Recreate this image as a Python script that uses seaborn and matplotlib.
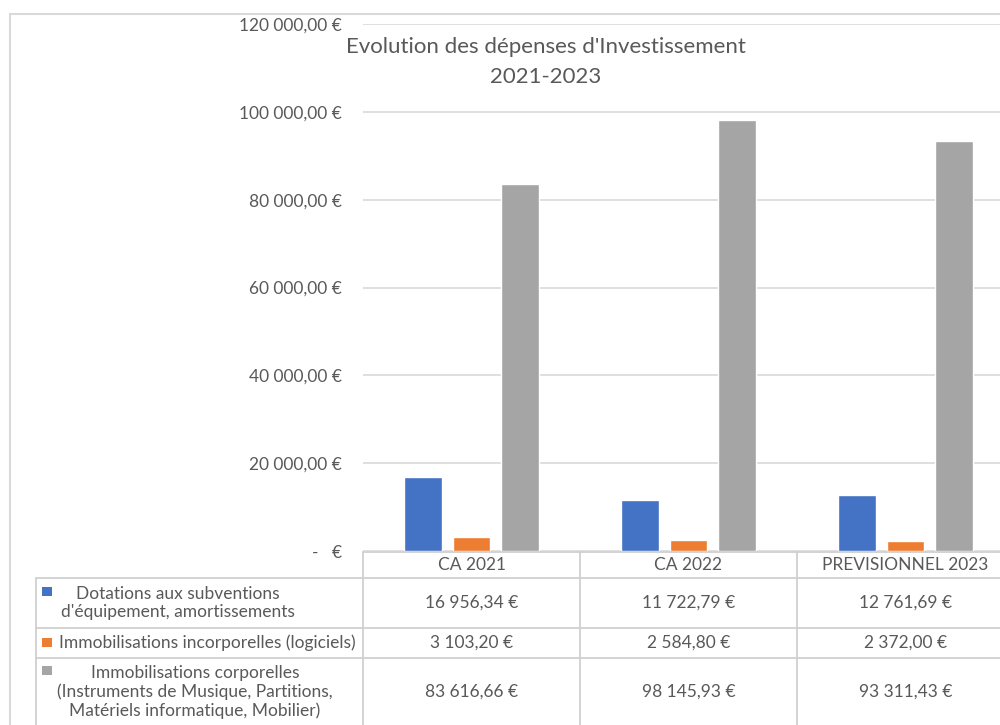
import matplotlib
matplotlib.use("Agg")
import matplotlib.pyplot as plt
import matplotlib.transforms as mtransforms
from matplotlib.lines import Line2D
from matplotlib.patches import Rectangle
import seaborn as sns
import pandas as pd

# ---- data ----
categories = ["CA 2021", "CA 2022", "PREVISIONNEL 2023"]
series_names = [
    "Dotations aux subventions\nd'équipement, amortissements",
    "Immobilisations incorporelles (logiciels)",
    "Immobilisations corporelles\n(Instruments de Musique, Partitions,\nMatériels informatique, Mobilier)",
]
dotations = [16956.34, 11722.79, 12761.69]
incorporelles = [3103.20, 2584.80, 2372.00]
corporelles = [83616.66, 98145.93, 93311.43]
colors = ["#4472C4", "#ED7D31", "#A5A5A5"]
yticks = [0, 20000, 40000, 60000, 80000, 100000, 120000]
title = "Evolution des dépenses d'Investissement\n2021-2023"

series_values = [dotations, incorporelles, corporelles]
rows = []
for name, vals in zip(series_names, series_values):
    for cat, v in zip(categories, vals):
        rows.append({"cat": cat, "series": name, "value": v})
df = pd.DataFrame(rows)

sns.set_theme(style="white")
plt.rcParams["font.family"] = ["Lato", "DejaVu Sans"]
TXT = "#595959"
GRID = "#D9D9D9"
FS = 12.5

W, H = 1000, 725
fig = plt.figure(figsize=(W / 100, H / 100), dpi=100)
fig.patch.set_facecolor("white")

def fy(py):
    return 1 - py / H

def fx(px):
    return px / W

ax_left, ax_right, ax_top, ax_bottom = 363, 1014, 24, 551
ax = fig.add_axes([fx(ax_left), fy(ax_bottom), (ax_right - ax_left) / W, (ax_bottom - ax_top) / H])
ax.set_facecolor("none")

sns.barplot(data=df, x="cat", y="value", hue="series", hue_order=series_names,
            order=categories, palette=colors, width=0.67, gap=0.22,
            saturation=1, legend=False, ax=ax, zorder=3)

ax.set_xlim(-0.5, 2.5)
ax.set_ylim(0, 120000)
ax.set_yticks(yticks)

def fmt(v):
    if v == 0:
        return "-   €"
    s = f"{v:,.2f}".replace(",", "\u202f").replace(".", ",")
    return s + " €"

ax.set_yticklabels([fmt(v) for v in yticks], color=TXT, fontsize=FS)
ax.tick_params(axis="y", length=0, pad=15)
ax.set_xticks([])
ax.set_xlabel("")
ax.set_ylabel("")
for sp in ax.spines.values():
    sp.set_visible(False)
ax.yaxis.grid(True, color=GRID, linewidth=1.2, zorder=0)
ax.set_axisbelow(True)

# title
fig.text(fx(546), fy(62), title, ha="center", va="center", fontsize=16,
         color=TXT, linespacing=1.6)

# ---- data table ----
bt = mtransforms.blended_transform_factory(ax.transData, fig.transFigure)
ft = fig.transFigure
LC = "#D0D0D0"

fig.canvas.draw()

def pix_to_data_x(px):
    return ax.transData.inverted().transform((px, 0))[0]

def hline(py, px0):
    x0 = pix_to_data_x(px0)
    fig.add_artist(Line2D([x0, 2.6], [fy(py), fy(py)], transform=bt, color=LC, lw=1.3))

def vline_data(dx, py0, py1):
    fig.add_artist(Line2D([dx, dx], [fy(py0), fy(py1)], transform=bt, color=LC, lw=1.3))

hline(552, ax_left)
for py in [578, 628, 658]:
    hline(py, 36)
fig.add_artist(Line2D([fx(36), fx(36)], [fy(578), fy(730)], transform=ft, color=LC, lw=1.3))
for dx in [-0.5, 0.5, 1.5, 2.5]:
    vline_data(dx, 552, 730)

# header
for i, cat in enumerate(categories):
    fig.text(i, fy(565), cat, transform=bt, ha="center", va="center", fontsize=FS, color=TXT)

# rows
row_centers = [603, 643, 692]
label_x = [178, 207, 195]
first_line_y = [592, 643, 671]
for r, (name, vals) in enumerate(zip(series_names, series_values)):
    fig.text(fx(label_x[r]), fy(row_centers[r]), name, ha="center", va="center",
             fontsize=FS, color=TXT, linespacing=1.2, multialignment="center")
    fig.add_artist(Rectangle((fx(42), fy(first_line_y[r] + 4)), 10 / W, 9 / H,
                             transform=ft, color=colors[r], lw=0))
    for i, v in enumerate(vals):
        fig.text(i, fy(row_centers[r]), fmt(v), transform=bt, ha="center",
                 va="center", fontsize=FS, color=TXT)

# outer chart border
fig.add_artist(Rectangle((fx(10), fy(740)), (1020 - 10) / W, (740 - 14) / H,
                         transform=ft, fill=False, edgecolor=GRID, lw=1.5))

fig.savefig("out.png", dpi=100, facecolor="white")
